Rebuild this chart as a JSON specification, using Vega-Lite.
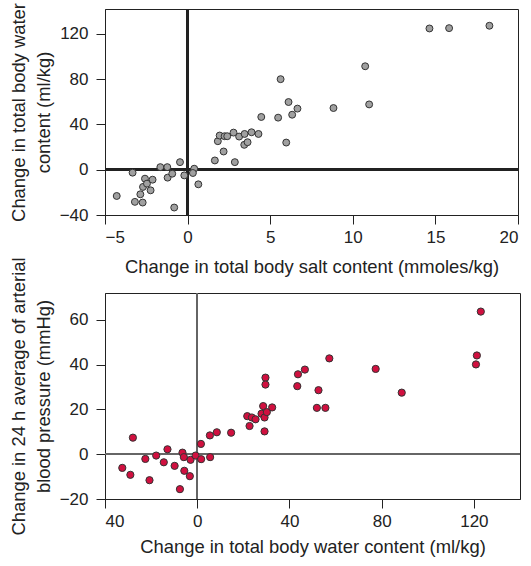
{
  "$schema": "https://vega.github.io/schema/vega-lite/v6.json",
  "padding": {"left": 8, "top": 2, "right": 5, "bottom": 5},
  "spacing": 78,
  "bounds": "flush",
  "datasets": {
    "salt": [
      {"salt": -4.29, "water": -23.2}, {"salt": -3.33, "water": -2.6}, {"salt": -3.19, "water": -28.4},
      {"salt": -2.72, "water": -29.0}, {"salt": -2.86, "water": -21.7}, {"salt": -2.70, "water": -15.2},
      {"salt": -2.58, "water": -7.9}, {"salt": -2.46, "water": -12.3}, {"salt": -2.24, "water": -18.2},
      {"salt": -2.12, "water": -8.8}, {"salt": -1.65, "water": 2.3}, {"salt": -1.23, "water": 2.3},
      {"salt": -1.21, "water": -7.0}, {"salt": -0.93, "water": -3.5}, {"salt": -0.81, "water": -33.4},
      {"salt": -0.46, "water": 6.7}, {"salt": -0.20, "water": -5.0}, {"salt": 0.40, "water": 0.9},
      {"salt": 0.32, "water": -2.9}, {"salt": 0.65, "water": -12.9}, {"salt": 1.65, "water": 8.2},
      {"salt": 1.83, "water": 25.2}, {"salt": 1.94, "water": 30.2}, {"salt": 2.18, "water": 16.1},
      {"salt": 2.24, "water": 29.6}, {"salt": 2.40, "water": 29.6}, {"salt": 2.78, "water": 32.8},
      {"salt": 2.86, "water": 6.7}, {"salt": 3.12, "water": 29.3}, {"salt": 3.45, "water": 31.6},
      {"salt": 3.43, "water": 22.0}, {"salt": 3.63, "water": 24.3}, {"salt": 3.87, "water": 33.1},
      {"salt": 4.29, "water": 31.6}, {"salt": 4.46, "water": 46.6}, {"salt": 5.48, "water": 46.0},
      {"salt": 5.63, "water": 80.0}, {"salt": 5.97, "water": 24.0}, {"salt": 6.11, "water": 59.8},
      {"salt": 6.33, "water": 48.6}, {"salt": 6.65, "water": 54.0}, {"salt": 8.83, "water": 54.5},
      {"salt": 10.75, "water": 91.4}, {"salt": 10.99, "water": 57.7}, {"salt": 14.64, "water": 124.8},
      {"salt": 15.83, "water": 125.1}, {"salt": 18.27, "water": 127.2}
    ],
    "bp": [
      {"water": -32.5, "bp": -6.1}, {"water": -29.0, "bp": -9.2}, {"water": -27.9, "bp": 7.4},
      {"water": -22.5, "bp": -2.1}, {"water": -20.7, "bp": -11.6}, {"water": -17.8, "bp": -0.6},
      {"water": -14.5, "bp": -3.6}, {"water": -12.9, "bp": 2.2}, {"water": -9.8, "bp": -5.2},
      {"water": -7.5, "bp": -15.6}, {"water": -6.4, "bp": 0.7}, {"water": -5.8, "bp": -1.3},
      {"water": -5.6, "bp": -7.4}, {"water": -3.2, "bp": -9.8}, {"water": -2.9, "bp": -2.5},
      {"water": -0.7, "bp": -0.6}, {"water": 1.6, "bp": 4.6}, {"water": 1.7, "bp": -2.2},
      {"water": 5.6, "bp": -1.3}, {"water": 5.5, "bp": 8.4}, {"water": 8.5, "bp": 9.8},
      {"water": 14.7, "bp": 9.6}, {"water": 21.7, "bp": 17.0}, {"water": 22.7, "bp": 12.6},
      {"water": 23.7, "bp": 16.4}, {"water": 25.3, "bp": 15.6}, {"water": 27.9, "bp": 18.1},
      {"water": 28.6, "bp": 21.5}, {"water": 29.2, "bp": 16.4}, {"water": 29.2, "bp": 10.2},
      {"water": 29.6, "bp": 34.2}, {"water": 29.6, "bp": 31.1}, {"water": 30.2, "bp": 18.8},
      {"water": 32.5, "bp": 20.9}, {"water": 43.7, "bp": 35.7}, {"water": 43.4, "bp": 30.4},
      {"water": 46.7, "bp": 37.8}, {"water": 57.3, "bp": 42.8}, {"water": 52.6, "bp": 28.6},
      {"water": 51.9, "bp": 20.7}, {"water": 55.6, "bp": 20.7}, {"water": 77.4, "bp": 38.1},
      {"water": 88.7, "bp": 27.5}, {"water": 121.3, "bp": 44.1}, {"water": 120.9, "bp": 40.1},
      {"water": 123.0, "bp": 63.7}
    ]
  },
  "config": {
    "font": "Liberation Sans",
    "view": {"stroke": "#222", "strokeWidth": 1},
    "axis": {
      "grid": false,
      "domainColor": "#222",
      "tickColor": "#222",
      "tickSize": 9,
      "labelFontSize": 17,
      "labelColor": "#222",
      "labelPadding": 8,
      "titleFontSize": 18.4,
      "titleFontWeight": "normal",
      "titleColor": "#222",
      "titleLineHeight": 25
    },
    "axisX": {"labelPadding": 5}
  },
  "vconcat": [
    {
      "width": 413,
      "height": 206,
      "data": {"name": "salt"},
      "layer": [
        {
          "mark": {"type": "rule", "color": "#222", "strokeWidth": 2},
          "encoding": {"y": {"datum": 0, "type": "quantitative"}}
        },
        {
          "mark": {"type": "rule", "color": "#222", "strokeWidth": 2},
          "encoding": {"x": {"datum": 0, "type": "quantitative"}}
        },
        {
          "mark": {"type": "point", "filled": true, "shape": "circle", "size": 48, "fill": "#a0a0a0", "stroke": "#333", "strokeWidth": 1, "opacity": 1},
          "encoding": {
            "x": {
              "field": "salt", "type": "quantitative",
              "scale": {"domain": [-5, 20], "nice": false, "zero": false},
              "axis": {"values": [-5, 0, 5, 10, 15, 20], "title": "Change in total body salt content (mmoles/kg)", "titlePadding": 12}
            },
            "y": {
              "field": "water", "type": "quantitative",
              "scale": {"domain": [-40, 142], "nice": false, "zero": false},
              "axis": {"values": [-40, 0, 40, 80, 120], "title": ["Change in total body water", "content (ml/kg)"], "titlePadding": 6}
            }
          }
        }
      ]
    },
    {
      "width": 415,
      "height": 206,
      "data": {"name": "bp"},
      "layer": [
        {
          "mark": {"type": "rule", "color": "#666", "strokeWidth": 1},
          "encoding": {"y": {"datum": 0, "type": "quantitative"}}
        },
        {
          "mark": {"type": "rule", "color": "#666", "strokeWidth": 1},
          "encoding": {"x": {"datum": 0, "type": "quantitative"}}
        },
        {
          "mark": {"type": "point", "filled": true, "shape": "circle", "size": 52, "fill": "#d0103f", "stroke": "#333", "strokeWidth": 1, "opacity": 1},
          "encoding": {
            "x": {
              "field": "water", "type": "quantitative",
              "scale": {"domain": [-40, 140], "nice": false, "zero": false},
              "axis": {"values": [-40, 0, 40, 80, 120], "labelExpr": "datum.value < 0 ? format(-datum.value, 'd') : datum.label", "title": "Change in total body water content (ml/kg)", "titlePadding": 8}
            },
            "y": {
              "field": "bp", "type": "quantitative",
              "scale": {"domain": [-20, 72], "nice": false, "zero": false},
              "axis": {"values": [-20, 0, 20, 40, 60], "title": ["Change in 24 h average of arterial", "blood pressure (mmHg)"], "titlePadding": 6}
            }
          }
        }
      ]
    }
  ]
}
